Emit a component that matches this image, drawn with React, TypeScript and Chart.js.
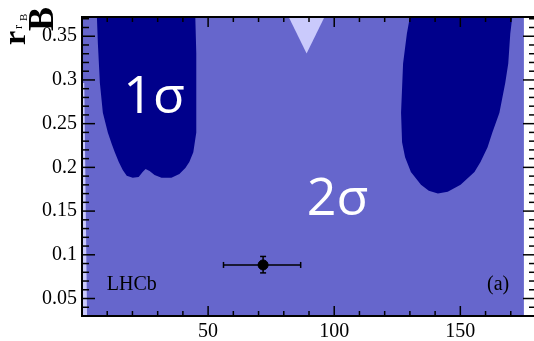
import React, { useEffect, useRef } from 'react';
import { Chart, registerables } from 'chart.js';
Chart.register(...registerables);

// axis ranges
const xRange = [0, 180];
const yRange = [0.03, 0.372];

// tick labels (major) and minor tick values
const xTickLabels = [50, 100, 150];
const yTickLabels = [0.05, 0.1, 0.15, 0.2, 0.25, 0.3, 0.35];
const xMinorTicks = [10, 20, 30, 40, 50, 60, 70, 80, 90, 100, 110, 120, 130, 140, 150, 160, 170];
const yMinorTicks = [0.04, 0.05, 0.06, 0.07, 0.08, 0.09, 0.1, 0.11, 0.12, 0.13, 0.14, 0.15, 0.16, 0.17, 0.18, 0.19, 0.2, 0.21, 0.22, 0.23, 0.24, 0.25, 0.26, 0.27, 0.28, 0.29, 0.3, 0.31, 0.32, 0.33, 0.34, 0.35, 0.36, 0.37];

// contour regions (x = gamma, y = r_B)
const twoSigmaX = [0, 175.2, 175.2, 0];
const twoSigmaY = [0.03, 0.03, 0.372, 0.372];

const outerStripX = [0, 0.9, 1.5, 2.0, 0];
const outerStripY = [0.2964, 0.2964, 0.15, 0.03, 0.03];

const outerTriangleX = [81.95, 89.05, 96.14];
const outerTriangleY = [0.372, 0.3302, 0.372];

const oneSigmaLeftX = [5.91, 6.3, 7.09, 8.27, 10.24, 11.82, 13.0, 14.58, 16.15, 17.73, 20.1, 22.46, 24.04, 25.22, 26.79, 28.76, 31.52, 35.46, 38.61, 40.98, 42.55, 44.13, 45.31, 45.31, 45.31, 44.92];
const oneSigmaLeftY = [0.372, 0.3415, 0.2964, 0.2625, 0.2399, 0.2264, 0.2174, 0.2061, 0.197, 0.1903, 0.188, 0.1891, 0.1948, 0.1982, 0.1959, 0.1914, 0.188, 0.188, 0.1925, 0.1993, 0.2061, 0.2174, 0.2399, 0.2851, 0.3302, 0.372];

const oneSigmaRightX = [130.0, 128.8, 127.3, 126.5, 126.9, 128.1, 130.4, 134.4, 137.5, 141.1, 145.0, 150.1, 155.6, 158.0, 160.8, 162.7, 165.5, 167.8, 169.0, 169.8, 170.6];
const oneSigmaRightY = [0.372, 0.3528, 0.3188, 0.2626, 0.2286, 0.2117, 0.1948, 0.1801, 0.1733, 0.17, 0.1722, 0.1801, 0.1948, 0.2061, 0.223, 0.2399, 0.2625, 0.2964, 0.3189, 0.3528, 0.372];

// measurement with errors
const measX = 71.8;
const measY = 0.0884;
const measXErr = [56.1, 86.7];
const measYErr = [0.0793, 0.0981];

// annotations (data coordinates)
const sigmaLabels = [
  { text: '1σ', x: 28.6, y: 0.2625 },
  { text: '2σ', x: 101.3, y: 0.1451 },
];
const cornerLabels = [
  { text: 'LHCb', x: 9.85, y: 0.0593, align: 'left' },
  { text: '(a)', x: 169.4, y: 0.0593, align: 'right' },
];

const DARK = '#00008B';
const MID = '#6666CC';
const LIGHT = '#CACAFC';

const pts = (xs: number[], ys: number[]) => xs.map((x, i) => ({ x, y: ys[i] }));

const polygon = (xs: number[], ys: number[], color: string, order: number) => ({
  data: pts(xs, ys),
  showLine: true,
  fill: 'shape',
  backgroundColor: color,
  borderColor: 'transparent',
  borderWidth: 0,
  pointRadius: 0,
  tension: 0,
  order,
});

const decorPlugin = {
  id: 'decor',
  afterDatasetsDraw(chart: any) {
    const { ctx, chartArea: a, scales } = chart;
    const x = scales.x;
    const y = scales.y;
    ctx.save();
    // annotations
    ctx.fillStyle = '#ffffff';
    ctx.font = '52px "Open Sans"';
    ctx.textAlign = 'center';
    ctx.textBaseline = 'alphabetic';
    for (const l of sigmaLabels) {
      ctx.fillText(l.text, x.getPixelForValue(l.x), y.getPixelForValue(l.y));
    }
    ctx.fillStyle = '#000';
    ctx.font = '20px "Liberation Serif"';
    for (const l of cornerLabels) {
      ctx.textAlign = l.align;
      ctx.fillText(l.text, x.getPixelForValue(l.x), y.getPixelForValue(l.y));
    }
    // ticks
    ctx.strokeStyle = '#000';
    ctx.lineWidth = 1.5;
    const seg = (x1: number, y1: number, x2: number, y2: number) => {
      ctx.beginPath();
      ctx.moveTo(x1, y1);
      ctx.lineTo(x2, y2);
      ctx.stroke();
    };
    for (const v of xMinorTicks) {
      const px = x.getPixelForValue(v);
      const major = xTickLabels.includes(v);
      seg(px, a.bottom, px, a.bottom - (major ? 10 : 5));
      seg(px, a.top, px, a.top + (major ? 10 : 5));
    }
    for (const v of yMinorTicks) {
      const py = y.getPixelForValue(v);
      const major = yTickLabels.some((t) => Math.abs(t - v) < 1e-9);
      seg(a.left, py, a.left + (major ? 13 : 7), py);
      seg(a.right, py, a.right - (major ? 13 : 7), py);
    }
    // frame
    ctx.lineWidth = 2;
    ctx.strokeRect(a.left, a.top, a.right - a.left, a.bottom - a.top);
    // y title
    const drawRot = (text: string, font: string, bx: number, by: number) => {
      ctx.save();
      ctx.translate(bx, by);
      ctx.rotate(-Math.PI / 2);
      ctx.font = font;
      ctx.textAlign = 'left';
      ctx.textBaseline = 'alphabetic';
      ctx.fillText(text, 0, 0);
      ctx.restore();
    };
    ctx.fillStyle = '#000';
    drawRot('r', 'bold 32px "Liberation Serif"', a.left - 57, 45);
    drawRot('r', '12px "Liberation Serif"', a.left - 60, 29);
    drawRot('B', '11px "Liberation Serif"', a.left - 55, 21);
    drawRot('B', 'bold 36px "Liberation Serif"', a.left - 29, 31);
    ctx.restore();
  },
};

export default function App() {
  const ref = useRef<HTMLCanvasElement>(null);
  useEffect(() => {
    document.body.style.margin = '0';
    const canvas = ref.current;
    if (!canvas) return;
    const chart = new Chart(canvas, {
      type: 'scatter',
      data: {
        datasets: [
          {
            data: [{ x: measX, y: measY }],
            pointRadius: 5,
            pointBackgroundColor: '#000',
            pointBorderColor: '#000',
            order: 0,
          } as any,
          {
            data: [
              { x: measXErr[0], y: measY },
              { x: measXErr[1], y: measY },
            ],
            showLine: true,
            borderColor: '#000',
            borderWidth: 1.5,
            pointStyle: 'line',
            pointRotation: 90,
            pointRadius: 3,
            pointBorderWidth: 1.5,
            pointBorderColor: '#000',
            order: 1,
          },
          {
            data: [
              { x: measX, y: measYErr[0] },
              { x: measX, y: measYErr[1] },
            ],
            showLine: true,
            borderColor: '#000',
            borderWidth: 1.5,
            pointStyle: 'line',
            pointRotation: 0,
            pointRadius: 3,
            pointBorderWidth: 1.5,
            pointBorderColor: '#000',
            order: 1,
          },
          polygon(oneSigmaLeftX, oneSigmaLeftY, DARK, 2),
          polygon(oneSigmaRightX, oneSigmaRightY, DARK, 2),
          polygon(outerTriangleX, outerTriangleY, LIGHT, 3),
          polygon(outerStripX, outerStripY, LIGHT, 3),
          polygon(twoSigmaX, twoSigmaY, MID, 4),
        ] as any,
      },
      options: {
        animation: false,
        responsive: false,
        events: [],
        layout: { padding: { top: 13, right: 4, left: 0, bottom: 0 } },
        plugins: { legend: { display: false }, tooltip: { enabled: false } },
        scales: {
          x: {
            type: 'linear',
            min: xRange[0],
            max: xRange[1],
            afterBuildTicks: (s: any) => {
              s.ticks = xTickLabels.map((v) => ({ value: v }));
            },
            afterFit: (s: any) => {
              s.height = 25;
            },
            grid: { display: false, drawTicks: false },
            border: { display: false },
            ticks: {
              padding: 4,
              color: '#000',
              font: { family: '"Liberation Serif"', size: 20 },
              callback: (v: any) => String(v),
              maxRotation: 0,
              autoSkip: false,
            },
          },
          y: {
            type: 'linear',
            min: yRange[0],
            max: yRange[1],
            afterBuildTicks: (s: any) => {
              s.ticks = yTickLabels.map((v) => ({ value: v }));
            },
            afterFit: (s: any) => {
              s.width = 82;
            },
            grid: { display: false, drawTicks: false },
            border: { display: false },
            ticks: {
              padding: 5,
              color: '#000',
              font: { family: '"Liberation Serif"', size: 20 },
              callback: (v: any) => String(v),
              autoSkip: false,
            },
          },
        },
      } as any,
      plugins: [decorPlugin],
    });
    return () => chart.destroy();
  }, []);
  return (
    <div style={{ position: 'fixed', left: 0, top: 0, width: 534, height: 341, overflow: 'hidden', background: '#fff' }}>
      <canvas ref={ref} width={542} height={341} style={{ display: 'block', width: 542, height: 341 }} />
    </div>
  );
}
